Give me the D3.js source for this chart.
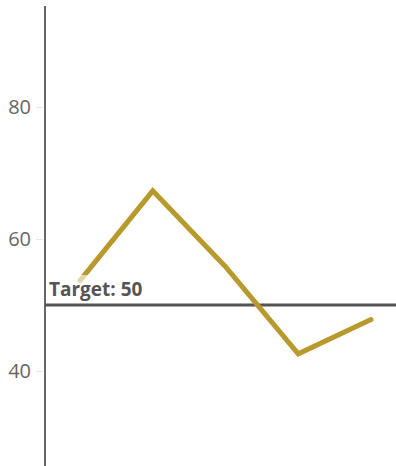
<!DOCTYPE html>
<html><head><meta charset="utf-8">
<script src="https://cdn.jsdelivr.net/npm/d3@7"></script>
<style>body{margin:0;background:#fff}svg{display:block}</style>
</head><body>
<script>
const categories = ["A","B","C","D","E"];
const values = [53.7, 67.3, 55.8, 42.6, 47.8];
const yTicks = [40, 60, 80];
const target = 50;
const targetLabel = "Target: 50";

const W = 396, H = 466;
const svg = d3.select("body").append("svg").attr("width", W).attr("height", H);
const x = d3.scalePoint().domain(categories).range([80, 371]);
const y = d3.scaleLinear().domain([40, 60]).range([371, 239]);

const axis = d3.axisLeft(y).tickValues(yTicks).tickSize(7).tickPadding(5).tickFormat(d3.format("d"));
const g = svg.append("g").attr("transform", "translate(45,0)").call(axis);
g.select(".domain").remove();
g.selectAll(".tick line").attr("stroke", "#e6e6e6").attr("x1", -9).attr("x2", -2);
g.selectAll(".tick text").attr("fill", "#666").attr("font-family", "Open Sans, sans-serif").attr("font-size", 20).attr("x", -14);
svg.append("line").attr("x1", 45).attr("x2", 45).attr("y1", 6).attr("y2", H)
  .attr("stroke", "#666").attr("stroke-width", 2);

svg.append("line").attr("x1", 45).attr("x2", W).attr("y1", y(target)).attr("y2", y(target))
  .attr("stroke", "#555").attr("stroke-width", 3);

const line = d3.line().x((d, i) => x(categories[i])).y(d => y(d));
svg.append("path").datum(values).attr("d", line).attr("fill", "none")
  .attr("stroke", "#b8992b").attr("stroke-width", 5).attr("stroke-linecap", "round").attr("stroke-linejoin", "miter");

svg.append("rect").attr("x", 48).attr("y", 275).attr("width", 98).attr("height", 26)
  .attr("fill", "#fff").attr("fill-opacity", 0.6);
svg.append("text").attr("x", 49).attr("y", y(target) - 9).text(targetLabel)
  .attr("font-family", "Open Sans, sans-serif").attr("font-weight", "bold").attr("font-size", 19).attr("fill", "#555");
</script>
</body></html>
